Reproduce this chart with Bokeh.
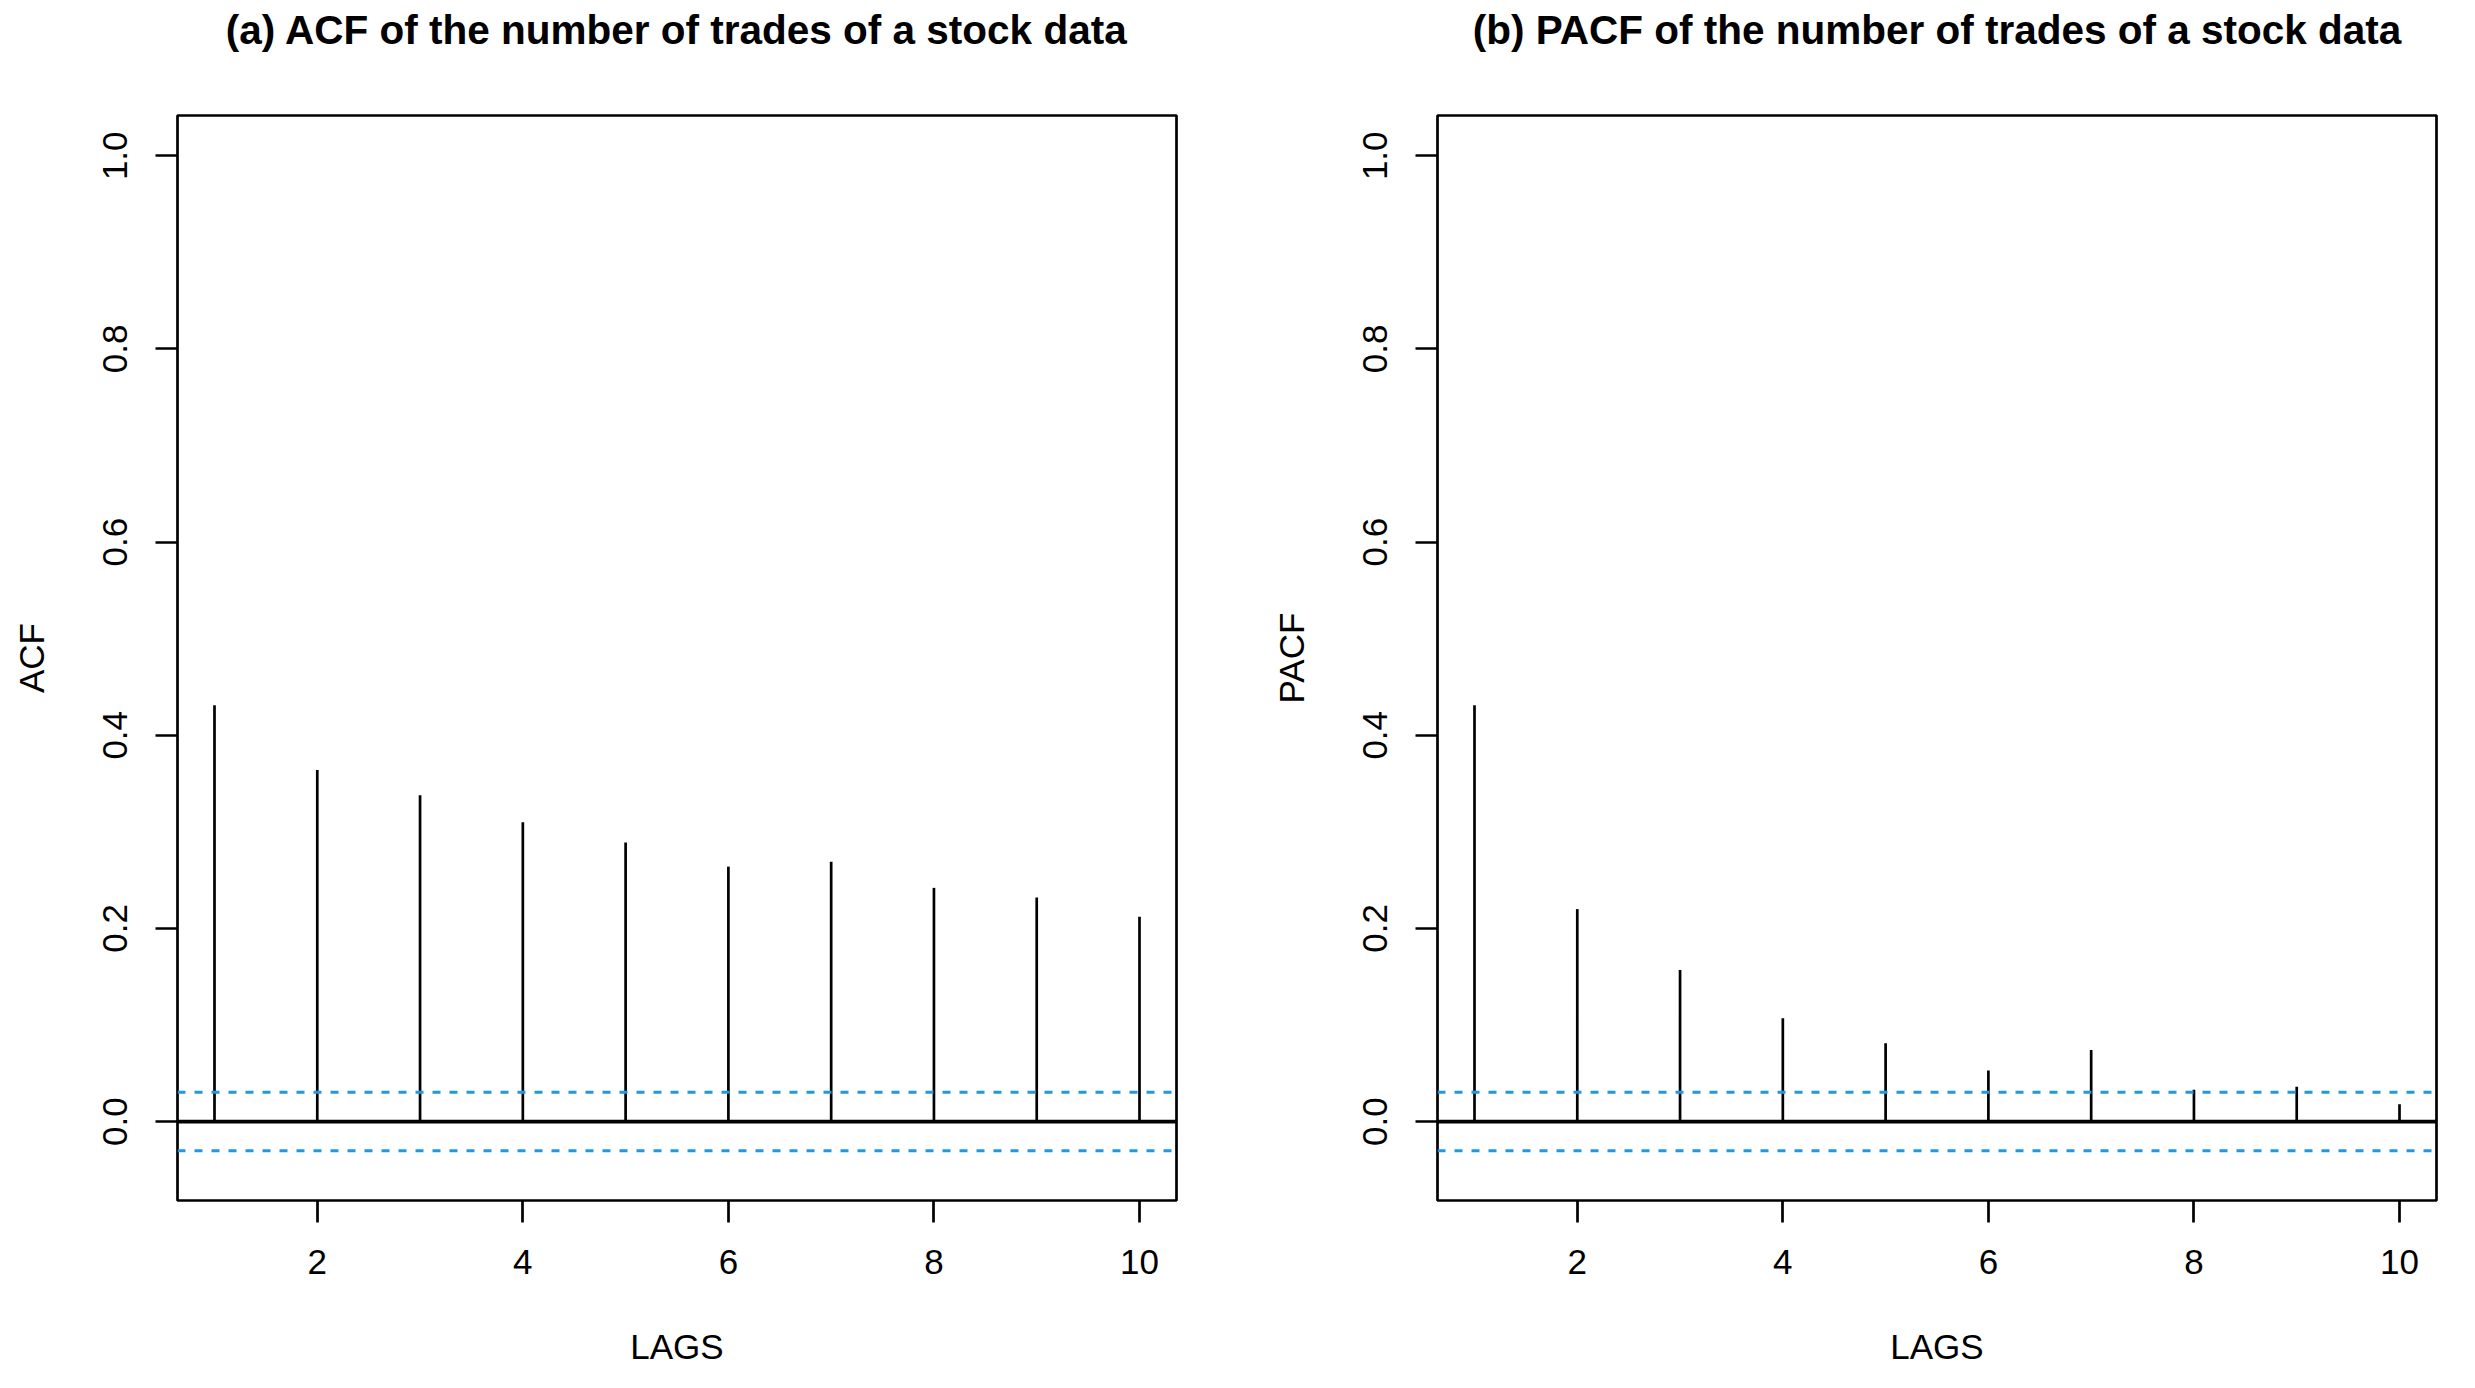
from bokeh.plotting import figure
from bokeh.models import Span, FixedTicker, NumeralTickFormatter, Range1d, ColumnDataSource, Title
from bokeh.layouts import row
from bokeh.embed import file_html
from bokeh.resources import INLINE

# ---- data ----
lags = [1, 2, 3, 4, 5, 6, 7, 8, 9, 10]
acf_values = [0.431, 0.364, 0.338, 0.310, 0.289, 0.264, 0.269, 0.242, 0.232, 0.212]
pacf_values = [0.431, 0.220, 0.157, 0.107, 0.081, 0.053, 0.074, 0.033, 0.036, 0.018]
conf_bound = 0.0303
x_ticks = [2, 4, 6, 8, 10]
y_ticks = [0.0, 0.2, 0.4, 0.6, 0.8, 1.0]
titles = ["(a) ACF of the number of trades of a stock data",
          "(b) PACF of the number of trades of a stock data"]
ylabels = ["ACF", "PACF"]
xlabel = "LAGS"

FONT = "Liberation Sans"
BLUE = "#2297E6"


def make_panel(values, title, ylabel, width, border_left, border_right):
    p = figure(width=width, height=1372, output_backend="svg", toolbar_location=None,
               x_range=Range1d(0.64, 10.36), y_range=Range1d(-0.0817, 1.0417),
               min_border_left=border_left, min_border_right=border_right,
               min_border_top=115, min_border_bottom=172,
               background_fill_color="white", border_fill_color="white")
    p.grid.visible = False
    p.outline_line_color = "black"
    p.outline_line_width = 2.7

    # spacer between frame and title (title panel stacks outward from the frame)
    p.add_layout(Title(text=" ", text_font_size="1px", standoff=60), "above")

    p.title.text = title
    p.title.align = "center"
    p.title.offset = 6
    p.title.text_font = FONT
    p.title.text_font_size = "40.5px"
    p.title.text_font_style = "bold"
    p.title.text_color = "black"
    p.title.standoff = 0

    for ax in (p.xaxis[0], p.yaxis[0]):
        ax.axis_line_color = None
        ax.major_tick_line_color = "black"
        ax.major_tick_line_width = 2.7
        ax.major_tick_out = 22
        ax.major_tick_in = 0
        ax.minor_tick_line_color = None
        ax.major_label_text_font = FONT
        ax.major_label_text_font_size = "35px"
        ax.major_label_text_color = "black"
        ax.axis_label_text_font = FONT
        ax.axis_label_text_font_size = "35px"
        ax.axis_label_text_font_style = "normal"
        ax.axis_label_text_color = "black"

    p.xaxis.ticker = FixedTicker(ticks=x_ticks)
    p.xaxis.formatter = NumeralTickFormatter(format="0")
    p.xaxis.axis_label = xlabel
    p.xaxis.major_label_standoff = 27
    p.xaxis.axis_label_standoff = 50

    p.yaxis.ticker = FixedTicker(ticks=y_ticks)
    p.yaxis.formatter = NumeralTickFormatter(format="0.0")
    p.yaxis.axis_label = ylabel
    p.yaxis.major_label_orientation = "vertical"
    p.yaxis.major_label_standoff = 28
    p.yaxis.axis_label_standoff = 50

    src = ColumnDataSource(dict(lag=lags, val=values, zero=[0] * len(lags)))
    p.segment(x0="lag", y0="zero", x1="lag", y1="val", source=src,
              line_color="black", line_width=2.7)

    p.add_layout(Span(location=0, dimension="width", line_color="black", line_width=3.6))
    for b in (conf_bound, -conf_bound):
        p.add_layout(Span(location=b, dimension="width", line_color=BLUE,
                          line_width=3, line_dash="8 9"))
    return p


p1 = make_panel(acf_values, titles[0], ylabels[0], 1262, 177, 86)
p2 = make_panel(pacf_values, titles[1], ylabels[1], 1204, 175, 30)
layout = row(p1, p2)

open("out.html", "w").write(file_html(layout, INLINE))
